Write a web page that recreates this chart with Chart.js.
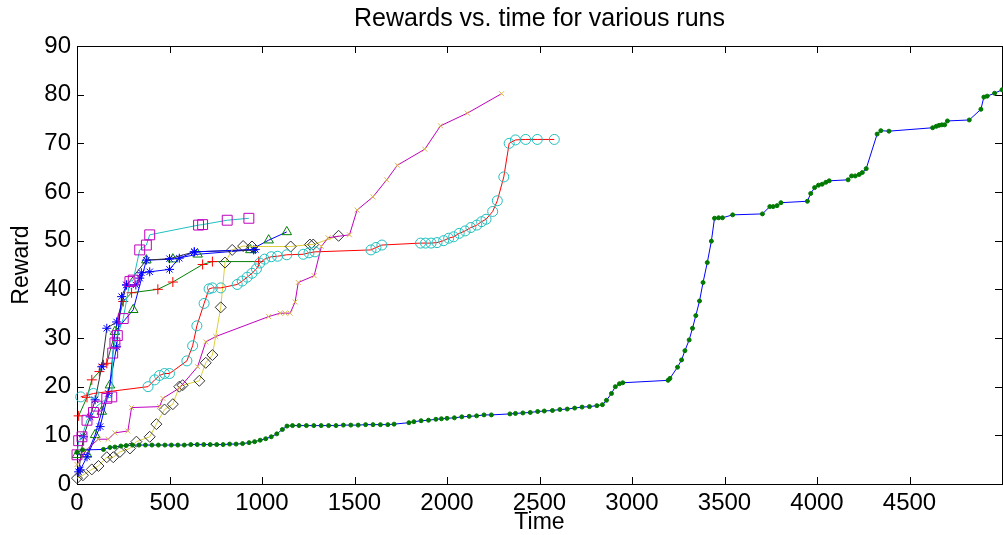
<!DOCTYPE html>
<html lang="en">
<head>
<meta charset="UTF-8">
<title>Rewards vs. time for various runs</title>
<script src="https://cdn.jsdelivr.net/npm/chart.js@4.4.0/dist/chart.umd.min.js"></script>
<style>
  html, body { margin: 0; padding: 0; background: #fff; overflow: hidden; }
  .wrap { width: 1003px; height: 535px; overflow: hidden; }
</style>
</head>
<body>
<div class="wrap">
  <canvas id="rewardChart" width="1010" height="535"></canvas>
</div>
<script>
// axis ticks
const timeTicks = [0, 500, 1000, 1500, 2000, 2500, 3000, 3500, 4000, 4500, 5000];
const rewardTicks = [0, 10, 20, 30, 40, 50, 60, 70, 80, 90];

// long run: blue line, green dots
const timeA = [0, 30, 143, 178, 205, 237, 266, 300, 335, 370, 405, 440, 475, 510, 545, 580, 615, 650, 685, 720, 755, 790, 825, 860, 895, 930, 960, 990, 1020, 1050, 1080, 1110, 1135, 1165, 1200, 1240, 1280, 1320, 1360, 1400, 1440, 1480, 1520, 1560, 1600, 1640, 1680, 1714, 1794, 1821, 1860, 1900, 1940, 1970, 2000, 2040, 2080, 2120, 2160, 2200, 2240, 2340, 2370, 2410, 2450, 2490, 2526, 2570, 2610, 2650, 2690, 2730, 2770, 2810, 2840, 2862, 2889, 2910, 2932, 2950, 3195, 3205, 3246, 3268, 3286, 3309, 3327, 3345, 3365, 3384, 3407, 3429, 3446, 3468, 3489, 3544, 3705, 3745, 3763, 3784, 3805, 3948, 3966, 3987, 4008, 4028, 4048, 4066, 4168, 4187, 4207, 4228, 4245, 4266, 4325, 4345, 4389, 4625, 4645, 4660, 4675, 4690, 4705, 4823, 4886, 4902, 4920, 4960, 5000];
const rewardA = [6.5, 7.0, 7.1, 7.5, 7.6, 7.8, 7.9, 8.0, 8.0, 8.0, 8.0, 8.0, 8.0, 8.0, 8.0, 8.0, 8.1, 8.1, 8.1, 8.1, 8.1, 8.1, 8.2, 8.2, 8.3, 8.5, 8.7, 9.0, 9.3, 9.7, 10.3, 11.2, 11.9, 12.0, 12.0, 12.0, 12.0, 12.0, 12.0, 12.0, 12.1, 12.1, 12.1, 12.2, 12.2, 12.2, 12.2, 12.3, 12.6, 12.8, 13.0, 13.1, 13.3, 13.4, 13.5, 13.6, 13.8, 13.9, 14.0, 14.2, 14.2, 14.4, 14.5, 14.6, 14.7, 14.9, 15.0, 15.1, 15.3, 15.4, 15.6, 15.8, 15.9, 16.1, 16.3, 17.2, 18.6, 20.0, 20.6, 20.8, 21.3, 21.7, 24.0, 25.5, 27.4, 29.6, 32.0, 34.6, 37.6, 41.4, 45.5, 49.9, 54.6, 54.7, 54.7, 55.3, 55.5, 57.0, 57.0, 57.2, 57.8, 58.1, 59.7, 60.9, 61.4, 61.6, 62.0, 62.3, 62.5, 63.3, 63.3, 63.6, 64.0, 64.8, 71.9, 72.6, 72.5, 73.2, 73.5, 73.7, 73.8, 73.8, 74.6, 74.8, 77.0, 79.5, 79.7, 80.3, 81.0];

// red line, cyan circles
const timeB = [20, 89, 384, 420, 446, 473, 500, 594, 625, 648, 687, 714, 732, 777, 866, 893, 920, 946, 970, 988, 1014, 1050, 1084, 1134, 1223, 1254, 1286, 1589, 1616, 1648, 1857, 1884, 1914, 1946, 1982, 2009, 2036, 2066, 2098, 2129, 2161, 2187, 2211, 2247, 2272, 2307, 2336, 2370, 2425, 2488, 2580];
const rewardB = [17.9, 18.6, 20.0, 21.4, 22.3, 22.7, 22.7, 25.3, 28.4, 32.5, 37.1, 40.1, 40.3, 40.3, 41.0, 41.7, 42.5, 43.3, 44.2, 45.4, 46.2, 46.7, 46.8, 47.1, 47.2, 47.5, 47.7, 48.1, 48.6, 49.1, 49.5, 49.5, 49.5, 49.6, 50.0, 50.5, 50.8, 51.5, 52.0, 52.7, 53.2, 53.9, 54.4, 56.0, 58.2, 63.1, 70.0, 70.7, 70.8, 70.8, 70.8];

// magenta line, yellow x
const timeC = [0, 50, 115, 168, 205, 275, 295, 446, 464, 553, 652, 696, 750, 1036, 1098, 1125, 1152, 1179, 1196, 1282, 1321, 1357, 1473, 1514, 1600, 1674, 1732, 1880, 1965, 2110, 2295];
const rewardC = [4.0, 7.0, 9.2, 9.2, 10.5, 10.9, 15.7, 15.9, 17.6, 19.7, 24.1, 29.2, 30.3, 34.4, 35.1, 35.1, 35.1, 37.4, 41.4, 42.8, 48.8, 50.6, 51.2, 56.3, 59.0, 62.5, 65.5, 68.8, 73.6, 76.2, 80.2];

// yellow line, black diamonds
const timeD = [0, 32, 80, 116, 161, 196, 232, 286, 321, 393, 429, 473, 518, 553, 571, 661, 696, 732, 777, 800, 839, 898, 946, 1155, 1259, 1277, 1414];
const rewardD = [1.2, 1.8, 3.0, 3.7, 5.5, 5.5, 6.6, 7.3, 8.7, 9.7, 12.3, 15.3, 16.4, 20.0, 20.3, 21.2, 24.9, 26.5, 36.3, 45.5, 48.1, 48.9, 48.8, 48.8, 49.2, 49.2, 51.0];

// cyan line, magenta squares
const timeE = [0, 9, 27, 54, 89, 107, 161, 188, 193, 205, 218, 250, 286, 304, 339, 375, 393, 657, 679, 812, 929];
const rewardE = [6.0, 8.9, 9.7, 13.1, 14.7, 16.0, 17.6, 17.9, 26.9, 29.0, 30.5, 34.0, 41.6, 41.9, 48.1, 49.1, 51.2, 53.2, 53.3, 54.2, 54.6];

// blue line, blue stars
const timeF = [18, 54, 125, 169, 214, 241, 268, 318, 339, 348, 393, 500, 553, 634, 964];
const rewardF = [2.9, 5.6, 11.8, 18.6, 28.2, 38.5, 40.9, 40.9, 42.3, 43.4, 43.6, 44.1, 46.4, 47.7, 48.2];

// black line, blue stars
const timeG = [9, 35, 71, 98, 134, 161, 214, 268, 375, 500, 634, 955];
const rewardG = [2.5, 9.7, 13.8, 17.3, 24.1, 32.0, 33.3, 40.9, 46.0, 46.3, 47.7, 48.1];

// blue line, green triangles
const timeH = [0, 54, 98, 134, 178, 205, 304, 375, 518, 652, 937, 1036, 1134];
const rewardH = [6.0, 6.1, 10.1, 14.9, 20.3, 31.3, 35.8, 46.0, 46.2, 47.2, 48.1, 50.1, 51.8];

// green line, red plus
const timeI = [9, 54, 80, 121, 143, 161, 250, 295, 437, 518, 679, 732, 982];
const rewardI = [14.0, 17.8, 21.4, 23.1, 24.5, 24.8, 37.5, 39.3, 40.0, 41.5, 45.1, 45.7, 45.7];

function run(times, rewards, line, marker, shape, size, filled) {
    return {
        data: times.map((t, i) => ({ x: t, y: rewards[i] })),
        borderColor: line,
        borderWidth: 1,
        pointStyle: shape,
        pointRadius: size,
        pointBorderColor: marker,
        pointBackgroundColor: filled ? marker : 'rgba(0,0,0,0)',
        pointBorderWidth: 1,
        tension: 0,
        clip: false
    };
}

// box round the plot with inward ticks, like the original
const frame = {
    id: 'frame',
    beforeDatasetsDraw(chart) {
        const { ctx, chartArea: a, scales: { x, y } } = chart;
        ctx.save();
        ctx.strokeStyle = '#000';
        ctx.lineWidth = 1;
        ctx.strokeRect(a.left + 0.5, a.top + 0.5, a.right - a.left, a.bottom - a.top);
        ctx.beginPath();
        x.ticks.forEach(t => {
            const px = Math.round(x.getPixelForValue(t.value)) + 0.5;
            ctx.moveTo(px, a.bottom); ctx.lineTo(px, a.bottom - 7);
            ctx.moveTo(px, a.top); ctx.lineTo(px, a.top + 7);
        });
        y.ticks.forEach(t => {
            const py = Math.round(y.getPixelForValue(t.value)) + 0.5;
            ctx.moveTo(a.left, py); ctx.lineTo(a.left + 7, py);
            ctx.moveTo(a.right, py); ctx.lineTo(a.right - 7, py);
        });
        ctx.stroke();
        ctx.restore();
    }
};

const font = 'Arial, "Liberation Sans", Helvetica, sans-serif';

new Chart(document.getElementById('rewardChart').getContext('2d'), {
    type: 'line',
    data: {
        datasets: [
            run(timeA, rewardA, '#0000ff', '#007a00', 'circle', 2, true),
            run(timeB, rewardB, '#ff0000', '#20bfbf', 'circle', 5, false),
            run(timeC, rewardC, '#bf00bf', '#d9b54a', 'crossRot', 3.5, false),
            run(timeD, rewardD, '#dccf3a', '#333333', 'rectRot', 5.5, false),
            run(timeE, rewardE, '#20bfbf', '#bf00bf', 'rect', 7, false),
            run(timeF, rewardF, '#0000ff', '#0000ff', 'star', 4.5, false),
            run(timeG, rewardG, '#333333', '#0000ff', 'star', 4.5, false),
            run(timeH, rewardH, '#0000ff', '#008000', 'triangle', 5.5, false),
            run(timeI, rewardI, '#008000', '#ff0000', 'cross', 5, false)
        ]
    },
    options: {
        responsive: false,
        devicePixelRatio: 1,
        animation: false,
        layout: { padding: { left: 0, right: 0, top: 0, bottom: 0 } },
        plugins: {
            legend: { display: false },
            tooltip: { enabled: false },
            title: {
                display: true,
                text: 'Rewards vs. time for various runs',
                fullSize: false,
                color: '#000',
                font: { family: font, size: 25, weight: 'normal' },
                padding: { top: 4, bottom: 12 }
            }
        },
        scales: {
            x: {
                type: 'linear',
                min: 0,
                max: 5000,
                afterBuildTicks: s => { s.ticks = timeTicks.map(v => ({ value: v })); },
                afterFit: s => { s.height = 51; },
                grid: { display: false, drawTicks: false },
                border: { display: false },
                ticks: {
                    color: '#000',
                    padding: 5,
                    maxRotation: 0,
                    font: { family: font, size: 24 },
                    callback: v => (v === 5000 ? '' : String(v))
                },
                title: {
                    display: true,
                    text: 'Time',
                    color: '#000',
                    font: { family: font, size: 23 },
                    padding: { top: 0, bottom: -1 }
                }
            },
            y: {
                min: 0,
                max: 90,
                afterBuildTicks: s => { s.ticks = rewardTicks.map(v => ({ value: v })); },
                afterFit: s => { s.width = 77; },
                grid: { display: false, drawTicks: false },
                border: { display: false },
                ticks: {
                    color: '#000',
                    padding: 6,
                    font: { family: font, size: 24 }
                },
                title: {
                    display: true,
                    text: 'Reward',
                    color: '#000',
                    font: { family: font, size: 23 },
                    padding: { top: 8, bottom: 0 }
                }
            }
        }
    },
    plugins: [frame]
});
</script>
</body>
</html>
